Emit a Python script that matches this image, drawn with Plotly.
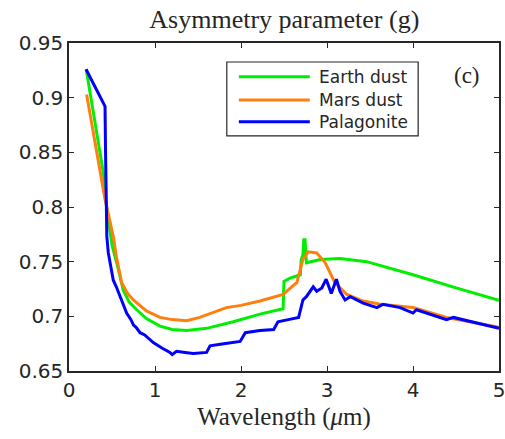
import plotly.graph_objects as go

# ---- data ----
earth_x = [0.20, 0.30, 0.40, 0.43, 0.457, 0.50, 0.555, 0.63, 0.70, 0.787, 0.90, 1.058, 1.20, 1.37, 1.60, 1.91, 2.22, 2.45, 2.49, 2.50, 2.57, 2.69, 2.70, 2.72, 2.73, 2.745, 2.76, 2.92, 3.15, 3.46, 3.73, 4.00, 4.50, 5.00]
earth_y = [0.926, 0.878, 0.831, 0.805, 0.788, 0.765, 0.749, 0.724, 0.713, 0.706, 0.698, 0.691, 0.688, 0.687, 0.689, 0.695, 0.702, 0.706, 0.707, 0.732, 0.735, 0.738, 0.752, 0.756, 0.770, 0.770, 0.749, 0.752, 0.753, 0.750, 0.744, 0.738, 0.726, 0.7147]

mars_x = [0.205, 0.30, 0.419, 0.515, 0.55, 0.612, 0.68, 0.748, 0.90, 1.058, 1.20, 1.37, 1.52, 1.83, 2.00, 2.22, 2.49, 2.65, 2.72, 2.78, 2.88, 2.98, 3.09, 3.23, 3.42, 3.62, 4.00, 4.39, 5.00]
mars_y = [0.903, 0.860, 0.807, 0.773, 0.755, 0.731, 0.721, 0.715, 0.705, 0.699, 0.697, 0.696, 0.699, 0.708, 0.710, 0.714, 0.720, 0.731, 0.752, 0.759, 0.758, 0.749, 0.731, 0.720, 0.714, 0.711, 0.708, 0.699, 0.690]

pala_x = [0.198, 0.419, 0.425, 0.43, 0.44, 0.457, 0.515, 0.55, 0.593, 0.62, 0.67, 0.72, 0.75, 0.78, 0.826, 0.88, 0.98, 1.08, 1.174, 1.20, 1.25, 1.35, 1.445, 1.60, 1.64, 1.80, 1.99, 2.05, 2.22, 2.38, 2.43, 2.55, 2.67, 2.72, 2.76, 2.84, 2.88, 2.94, 2.99, 3.05, 3.11, 3.15, 3.21, 3.27, 3.42, 3.58, 3.65, 3.85, 4.00, 4.04, 4.39, 4.47, 5.00]
pala_y = [0.926, 0.892, 0.850, 0.800, 0.773, 0.758, 0.733, 0.727, 0.718, 0.714, 0.703, 0.697, 0.692, 0.690, 0.685, 0.683, 0.676, 0.671, 0.667, 0.665, 0.668, 0.667, 0.666, 0.667, 0.673, 0.675, 0.677, 0.685, 0.687, 0.688, 0.695, 0.697, 0.699, 0.715, 0.718, 0.727, 0.723, 0.726, 0.734, 0.721, 0.734, 0.723, 0.715, 0.718, 0.712, 0.708, 0.711, 0.708, 0.703, 0.706, 0.697, 0.699, 0.689]

series_names = ["Earth dust", "Mars dust", "Palagonite"]
series_colors = ["#00ee00", "#ff7f0e", "#0000ff"]

x_ticks = [0, 1, 2, 3, 4, 5]
y_ticks = [0.65, 0.7, 0.75, 0.8, 0.85, 0.9, 0.95]
y_tick_text = ["0.65", "0.7", "0.75", "0.8", "0.85", "0.9", "0.95"]

AX = "#262626"
fig = go.Figure()
for xs, ys, name, col in zip([earth_x, mars_x, pala_x], [earth_y, mars_y, pala_y], series_names, series_colors):
    fig.add_trace(go.Scatter(x=xs, y=ys, mode="lines", name=name,
                             line=dict(color=col, width=3), showlegend=False))

# manual legend (paper coords)
shapes = [dict(type="rect", xref="paper", yref="paper", x0=0.367, x1=0.812, y0=0.717, y1=0.942,
               line=dict(color=AX, width=1.2), fillcolor="white", layer="above")]
annotations = []
rows = [0.897, 0.826, 0.760]
for name, col, yy in zip(series_names, series_colors, rows):
    shapes.append(dict(type="line", xref="paper", yref="paper", x0=0.395, x1=0.560, y0=yy, y1=yy,
                       line=dict(color=col, width=3), layer="above"))
    annotations.append(dict(xref="paper", yref="paper", x=0.576, y=yy, text=name, showarrow=False,
                            xanchor="left", yanchor="middle",
                            font=dict(family="DejaVu Sans", size=17, color=AX)))
annotations.append(dict(xref="paper", yref="paper", x=0.925, y=0.902, text="(c)", showarrow=False,
                        xanchor="center", yanchor="middle",
                        font=dict(family="Liberation Serif", size=23, color=AX)))

fig.update_layout(
    width=505, height=439,
    margin=dict(l=69, r=6, t=43, b=67.5, autoexpand=False),
    paper_bgcolor="white", plot_bgcolor="white",
    title=dict(text="Asymmetry parameter (g)", x=0.563, xanchor="center", y=0.958, yanchor="middle",
               font=dict(family="Liberation Serif", size=26, color=AX)),
    shapes=shapes, annotations=annotations,
    xaxis=dict(range=[0, 5], tickvals=x_ticks, ticks="inside", ticklen=5, tickwidth=1, automargin=False,
               ticklabeloverflow="allow",
               tickcolor=AX, showline=True, linecolor=AX, linewidth=1.5, mirror="ticks",
               showgrid=False, zeroline=False,
               tickfont=dict(family="DejaVu Sans", size=20, color=AX),
               title=dict(text="Wavelength (<i>μ</i>m)", standoff=7,
                          font=dict(family="Liberation Serif", size=25, color=AX))),
    yaxis=dict(range=[0.65, 0.95], tickvals=y_ticks, ticktext=y_tick_text, ticks="inside", ticklen=5,
               tickwidth=1, tickcolor=AX, showline=True, linecolor=AX, linewidth=1.5, mirror="ticks",
               showgrid=False, zeroline=False, automargin=False, ticklabeloverflow="allow",
               tickfont=dict(family="DejaVu Sans", size=20, color=AX)),
)

fig.write_html("out.html")
